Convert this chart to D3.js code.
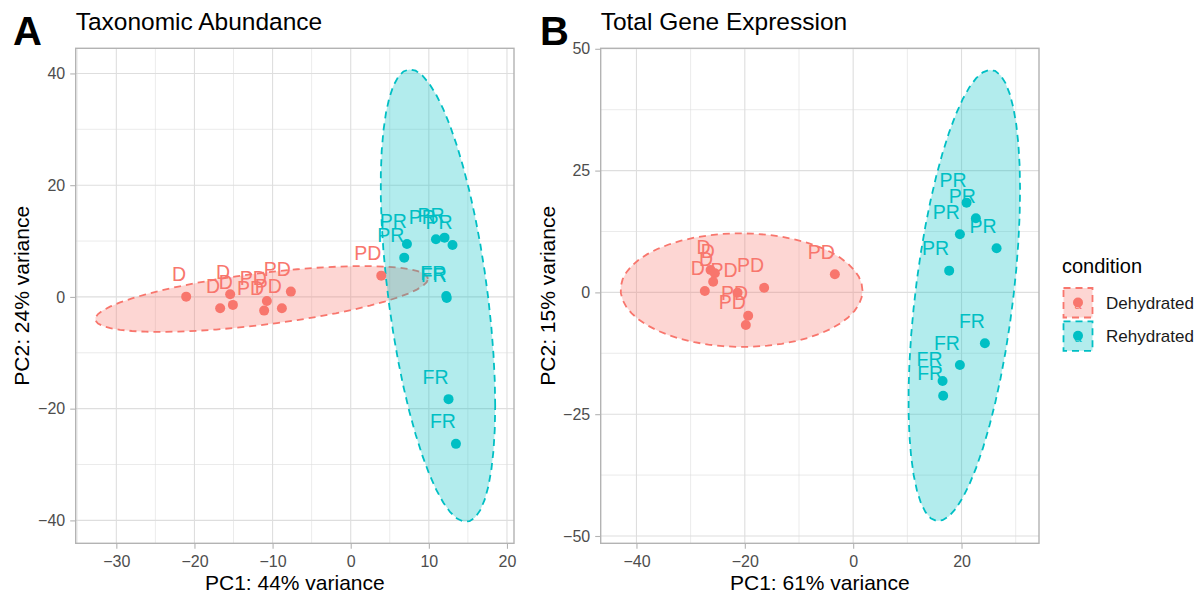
<!DOCTYPE html>
<html><head><meta charset="utf-8">
<script src="https://cdn.jsdelivr.net/npm/d3@7"></script>
<style>body{margin:0;background:#fff} svg{display:block} text{font-family:"Liberation Sans",Arial,Helvetica,sans-serif}</style>
</head><body><svg id="c" width="1203" height="597"></svg>
<script>
// ---------- data ----------
const conditions = ["Dehydrated", "Rehydrated"];
const colors = ["#F8766D", "#00BFC4"];

// Panel A: Taxonomic Abundance
const taxLabels    = ["D","D","D","D","PD","PD","PD","PD","PD","PR","PR","PR","PR","PR","FR","FR","FR","FR"];
const taxCondition = ["Dehydrated","Dehydrated","Dehydrated","Dehydrated","Dehydrated","Dehydrated","Dehydrated","Dehydrated","Dehydrated",
                      "Rehydrated","Rehydrated","Rehydrated","Rehydrated","Rehydrated","Rehydrated","Rehydrated","Rehydrated","Rehydrated"];
const taxPC1 = [-21.06,-16.71,-15.43,-15.08,-10.73,-11.08,-8.81,-7.66,3.91, 7.20,6.85,10.91,12.01,13.03, 12.23,12.29,12.52,13.47];
const taxPC2 = [0.05,-2.02,0.48,-1.43,-0.72,-2.45,-2.02,0.95,3.81, 9.48,7.03,10.32,10.61,9.30, 0.18,-0.18,-18.30,-26.30];
const taxXTicks = [-30,-20,-10,0,10,20];
const taxYTicks = [-40,-20,0,20,40];
const taxXDomain = [-35.2, 20.9];
const taxYDomain = [-44.1, 44.5];

// Panel B: Total Gene Expression
const geneLabels    = ["D","D","D","D","PD","PD","PD","PD","PD","PR","PR","PR","PR","PR","FR","FR","FR","FR"];
const geneCondition = taxCondition.slice();
const genePC1 = [-27.38,-26.32,-25.53,-25.84,-3.38,-16.43,-21.34,-19.38,-19.81, 20.93,22.65,19.70,26.47,17.72, 24.31,19.70,16.50,16.61];
const genePC2 = [0.29,4.60,3.92,2.20,3.72,0.97,-0.06,-4.78,-6.69, 18.42,15.22,11.93,9.06,4.46, -10.45,-14.91,-18.19,-21.21];
const geneXTicks = [-40,-20,0,20];
const geneYTicks = [-50,-25,0,25,50];
const geneXDomain = [-46.6, 34.3];
const geneYDomain = [-51.5, 50.1];

// ---------- stat_ellipse (type "norm", level 0.95) ----------
function covWt(pts){
  const n = pts.length;
  const m = [d3.mean(pts, d=>d[0]), d3.mean(pts, d=>d[1])];
  let a=0,b=0,c=0;
  pts.forEach(d=>{const u=d[0]-m[0], v=d[1]-m[1]; a+=u*u; b+=u*v; c+=v*v;});
  return {center:m, cov:[[a/(n-1),b/(n-1)],[b/(n-1),c/(n-1)]]};
}
function ellipsePts(pts, level=0.95, segments=51){
  const {center, cov} = covWt(pts);
  const dfd = pts.length-1;
  const qf = dfd/2*(Math.pow(1-level, -2/dfd)-1); // F quantile, dfn = 2
  const r = Math.sqrt(2*qf);
  const A = Math.sqrt(cov[0][0]), B = cov[0][1]/A, C = Math.sqrt(cov[1][1]-B*B);
  return d3.range(segments+1).map(k=>{
    const t = k*2*Math.PI/segments, u = Math.cos(t), v = Math.sin(t);
    return [center[0]+r*u*A, center[1]+r*(u*B+v*C)];
  });
}

// ---------- drawing ----------
const svg = d3.select("#c");
const plotTop = 48.3, plotBottom = 543.3;

function panel(opt){
  const {x0,x1,xDomain,yDomain,xTicks,yTicks,pc1,pc2,labels,cond,title,tag,tagX,xTitle,yTitle,yTitleX} = opt;
  const x = d3.scaleLinear().domain(xDomain).range([x0,x1]);
  const y = d3.scaleLinear().domain(yDomain).range([plotBottom,plotTop]);
  const g = svg.append("g");
  const step = xTicks[1]-xTicks[0], ystep = yTicks[1]-yTicks[0];
  const xMinor = d3.range(xTicks[0]-step/2, xTicks[xTicks.length-1]+step, step).filter(v=>v>xDomain[0]&&v<xDomain[1]);
  const yMinor = d3.range(yTicks[0]-ystep/2, yTicks[yTicks.length-1]+ystep, ystep).filter(v=>v>yDomain[0]&&v<yDomain[1]);
  // grid
  g.selectAll(".xm").data(xMinor).join("line").attr("x1",d=>x(d)).attr("x2",d=>x(d)).attr("y1",plotTop).attr("y2",plotBottom).attr("stroke","#DEDEDE").attr("stroke-width",0.6);
  g.selectAll(".ym").data(yMinor).join("line").attr("y1",d=>y(d)).attr("y2",d=>y(d)).attr("x1",x0).attr("x2",x1).attr("stroke","#DEDEDE").attr("stroke-width",0.6);
  g.selectAll(".xM").data(xTicks).join("line").attr("x1",d=>x(d)).attr("x2",d=>x(d)).attr("y1",plotTop).attr("y2",plotBottom).attr("stroke","#DEDEDE").attr("stroke-width",1.1);
  g.selectAll(".yM").data(yTicks).join("line").attr("y1",d=>y(d)).attr("y2",d=>y(d)).attr("x1",x0).attr("x2",x1).attr("stroke","#DEDEDE").attr("stroke-width",1.1);

  // ellipses
  const line = d3.line().x(d=>x(d[0])).y(d=>y(d[1]));
  conditions.forEach((c,ci)=>{
    const pts = pc1.map((v,i)=>[v,pc2[i]]).filter((d,i)=>cond[i]===c);
    g.append("path").datum(ellipsePts(pts)).attr("d", d=>line(d)+"Z")
      .attr("fill", colors[ci]).attr("fill-opacity",0.3)
      .attr("stroke", colors[ci]).attr("stroke-width",1.8).attr("stroke-dasharray","7,5");
  });
  // points
  const idx = d3.range(pc1.length);
  g.selectAll(".pt").data(idx).join("circle")
    .attr("cx",i=>x(pc1[i])).attr("cy",i=>y(pc2[i])).attr("r",5)
    .attr("fill",i=>colors[conditions.indexOf(cond[i])]);
  g.selectAll(".lb").data(idx).join("text")
    .attr("x",i=>x(pc1[i])).attr("y",i=>y(pc2[i])-15.5)
    .attr("text-anchor","end").attr("font-size",19.5)
    .attr("fill",i=>colors[conditions.indexOf(cond[i])]).text(i=>labels[i]);

  // border
  g.append("rect").attr("x",x0).attr("y",plotTop).attr("width",x1-x0).attr("height",plotBottom-plotTop)
    .attr("fill","none").attr("stroke","#B3B3B3").attr("stroke-width",1.4);
  // axes
  const xa = g.append("g").attr("transform",`translate(0,${plotBottom})`)
    .call(d3.axisBottom(x).tickValues(xTicks).tickSize(5.5).tickPadding(4));
  const ya = g.append("g").attr("transform",`translate(${x0},0)`)
    .call(d3.axisLeft(y).tickValues(yTicks).tickSize(5.5).tickPadding(5));
  [xa,ya].forEach(a=>{
    a.select(".domain").remove();
    a.selectAll(".tick line").attr("stroke","#B3B3B3").attr("stroke-width",1.1);
    a.selectAll(".tick text").attr("fill","#4D4D4D").attr("font-size",16).attr("font-family","Liberation Sans, Arial, sans-serif");
  });
  xa.selectAll(".tick text").attr("dy",null).attr("y",23.5);

  // titles
  svg.append("text").attr("x",x0).attr("y",30).attr("font-size",24.5).attr("fill","#000").text(title);
  svg.append("text").attr("x",tagX).attr("y",45).attr("font-size",40).attr("font-weight","bold").attr("fill","#000").text(tag);
  svg.append("text").attr("x",(x0+x1)/2).attr("y",590).attr("text-anchor","middle").attr("font-size",21).attr("fill","#000").text(xTitle);
  svg.append("text").attr("transform",`translate(${yTitleX},${(plotTop+plotBottom)/2}) rotate(-90)`)
    .attr("text-anchor","middle").attr("font-size",21).attr("fill","#000").text(yTitle);
}

panel({x0:75.7,x1:514,xDomain:taxXDomain,yDomain:taxYDomain,xTicks:taxXTicks,yTicks:taxYTicks,
  pc1:taxPC1,pc2:taxPC2,labels:taxLabels,cond:taxCondition,title:"Taxonomic Abundance",tag:"A",tagX:13,
  xTitle:"PC1: 44% variance",yTitle:"PC2: 24% variance",yTitleX:29});
panel({x0:600.7,x1:1039,xDomain:geneXDomain,yDomain:geneYDomain,xTicks:geneXTicks,yTicks:geneYTicks,
  pc1:genePC1,pc2:genePC2,labels:geneLabels,cond:geneCondition,title:"Total Gene Expression",tag:"B",tagX:540,
  xTitle:"PC1: 61% variance",yTitle:"PC2: 15% variance",yTitleX:555});

// legend
const lg = svg.append("g");
lg.append("text").attr("x",1062).attr("y",273).attr("font-size",20).attr("fill","#000").text("condition");
conditions.forEach((c,i)=>{
  const ky = 288 + i*33.3;
  lg.append("rect").attr("x",1063.5).attr("y",ky).attr("width",29).attr("height",29.5)
    .attr("fill",colors[i]).attr("fill-opacity",0.3).attr("stroke",colors[i]).attr("stroke-width",1.8).attr("stroke-dasharray","7,5");
  lg.append("text").attr("x",1078).attr("y",ky+20.5).attr("text-anchor","middle").attr("font-size",13).attr("fill",colors[i]).text("a");
  lg.append("circle").attr("cx",1078).attr("cy",ky+14.5).attr("r",5).attr("fill",colors[i]);
  lg.append("text").attr("x",1106).attr("y",ky+20.5).attr("font-size",17).attr("fill","#1A1A1A").text(c);
});
</script></body></html>
